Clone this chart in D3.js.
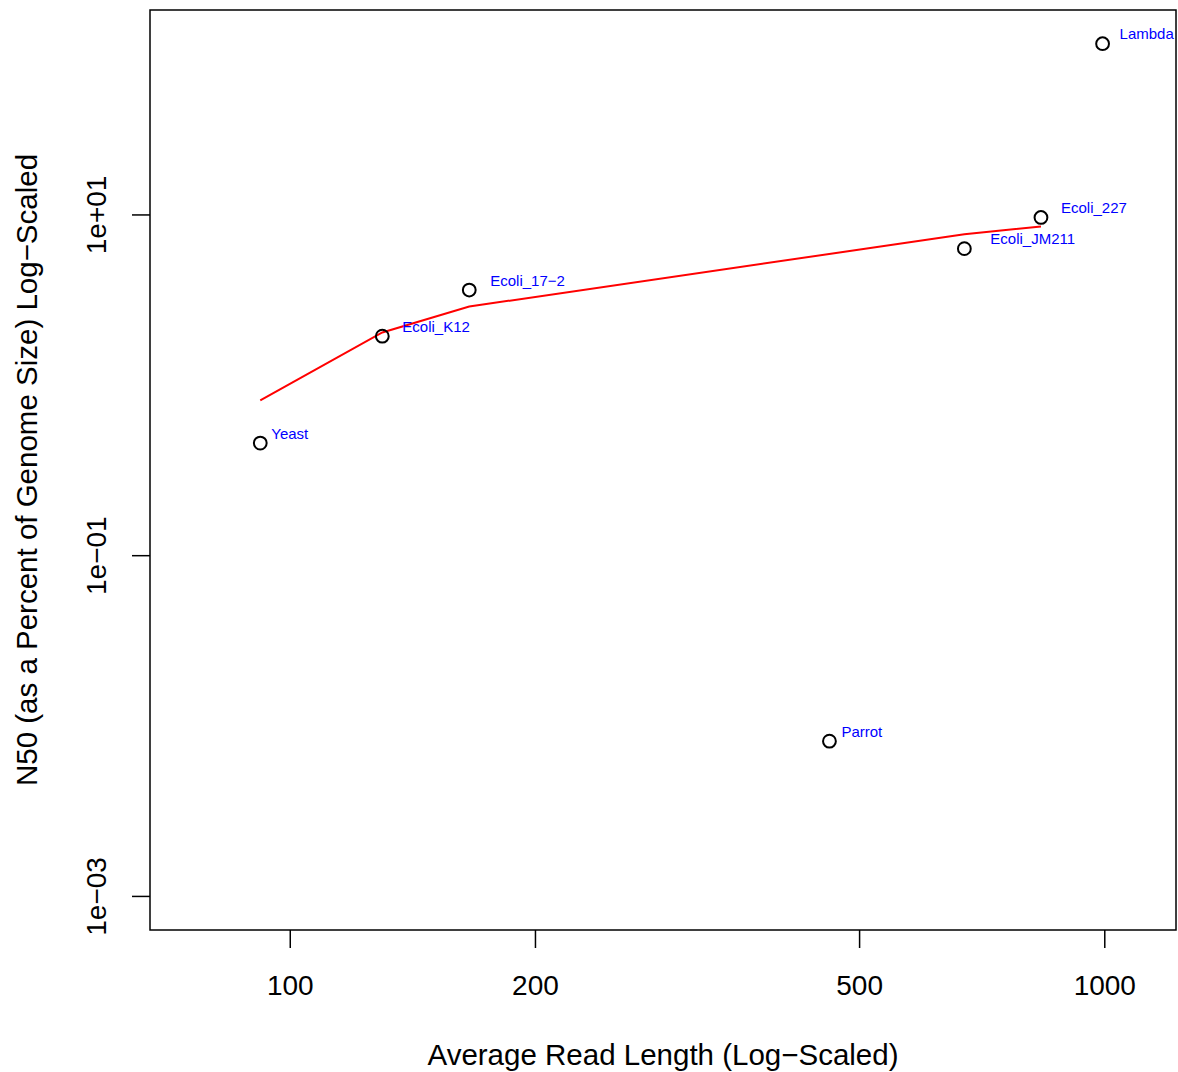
<!DOCTYPE html>
<html>
<head>
<meta charset="utf-8">
<script src="https://cdn.jsdelivr.net/npm/d3@7"></script>
<style>
  html, body { margin: 0; padding: 0; background: #fff; }
  svg { display: block; font-family: "Liberation Sans", Arial, Helvetica, sans-serif; }
</style>
</head>
<body>
<svg id="chart" width="1178" height="1072"></svg>
<script>
// ---- data ----
const labels = ["Yeast", "Ecoli_K12", "Ecoli_17\u22122", "Parrot", "Ecoli_JM211", "Ecoli_227", "Lambda"];
const readLength = [92.0, 129.9, 166.1, 459.8, 673.3, 836.1, 995.2];
const n50Percent = [0.455, 1.93, 3.6, 0.0081, 6.3, 9.6, 100.5];

// fitted (smoothed) trend line
const fitX = [92.0, 129.9, 166.1, 673.3, 836.1];
const fitY = [0.81, 2.03, 2.88, 7.65, 8.5];

const xTicks = [100, 200, 500, 1000];
const xTickLabels = ["100", "200", "500", "1000"];
const yTicks = [1e-3, 1e-1, 1e1];
const yTickLabels = ["1e\u221203", "1e\u221201", "1e+01"];

const xLim = [75, 1100];
const yLim = [1e-3, 1e2];

// ---- layout ----
const plot = { left: 150, right: 1176, top: 10, bottom: 930 };
const labelDx = [11, 20, 21, 12, 26, 20, 17];
const labelDy = -9.5;

function extendLog(lim) {
  const a = Math.log10(lim[0]), b = Math.log10(lim[1]);
  const e = (b - a) * 0.04;
  return [Math.pow(10, a - e), Math.pow(10, b + e)];
}

const x = d3.scaleLog().domain(extendLog(xLim)).range([plot.left, plot.right]);
const y = d3.scaleLog().domain(extendLog(yLim)).range([plot.bottom, plot.top]);

const svg = d3.select("#chart");

// box
svg.append("rect")
  .attr("x", plot.left).attr("y", plot.top)
  .attr("width", plot.right - plot.left).attr("height", plot.bottom - plot.top)
  .attr("fill", "none").attr("stroke", "#000").attr("stroke-width", 1.5);

// x axis
const xAxis = d3.axisBottom(x).tickValues(xTicks)
  .tickFormat((d, i) => xTickLabels[i]).tickSizeOuter(0).tickSize(18).tickPadding(27);
const gx = svg.append("g").attr("transform", `translate(0,${plot.bottom})`).call(xAxis);
gx.select(".domain").remove();
gx.selectAll("line").attr("stroke", "#000").attr("stroke-width", 1.5);
gx.selectAll("text").attr("font-size", 28).attr("fill", "#000")
  .attr("font-family", "Liberation Sans, Arial, sans-serif");

// y axis
const yAxis = d3.axisLeft(y).tickValues(yTicks)
  .tickFormat((d, i) => yTickLabels[i]).tickSizeOuter(0).tickSize(18);
const gy = svg.append("g").attr("transform", `translate(${plot.left},0)`).call(yAxis);
gy.select(".domain").remove();
gy.selectAll("line").attr("stroke", "#000").attr("stroke-width", 1.5);
gy.selectAll("text")
  .attr("font-size", 28).attr("fill", "#000")
  .attr("font-family", "Liberation Sans, Arial, sans-serif")
  .attr("x", null).attr("dy", null)
  .attr("text-anchor", "middle")
  .attr("transform", "translate(-44,0) rotate(-90)");

// axis titles
svg.append("text")
  .attr("x", (plot.left + plot.right) / 2).attr("y", 1065)
  .attr("text-anchor", "middle").attr("font-size", 29.5).attr("fill", "#000")
  .text("Average Read Length (Log\u2212Scaled)");

svg.append("text")
  .attr("transform", `translate(37,${(plot.top + plot.bottom) / 2}) rotate(-90)`)
  .attr("text-anchor", "middle").attr("font-size", 29.5).attr("fill", "#000")
  .text("N50 (as a Percent of Genome Size) Log\u2212Scaled");

// trend line
const fit = fitX.map((v, i) => [v, fitY[i]]);
svg.append("path")
  .datum(fit)
  .attr("d", d3.line().x(d => x(d[0])).y(d => y(d[1])))
  .attr("fill", "none").attr("stroke", "#ff0000").attr("stroke-width", 2);

// points
const pts = readLength.map((v, i) => ({ x: v, y: n50Percent[i], label: labels[i], dx: labelDx[i] }));
svg.append("g").selectAll("circle").data(pts).join("circle")
  .attr("cx", d => x(d.x)).attr("cy", d => y(d.y)).attr("r", 6.4)
  .attr("fill", "none").attr("stroke", "#000").attr("stroke-width", 2);

svg.append("g").selectAll("text").data(pts).join("text")
  .attr("x", d => x(d.x) + d.dx).attr("y", d => y(d.y) + labelDy)
  .attr("dy", "0.35em")
  .attr("font-size", 15).attr("fill", "#0000ff")
  .text(d => d.label);
</script>
</body>
</html>
